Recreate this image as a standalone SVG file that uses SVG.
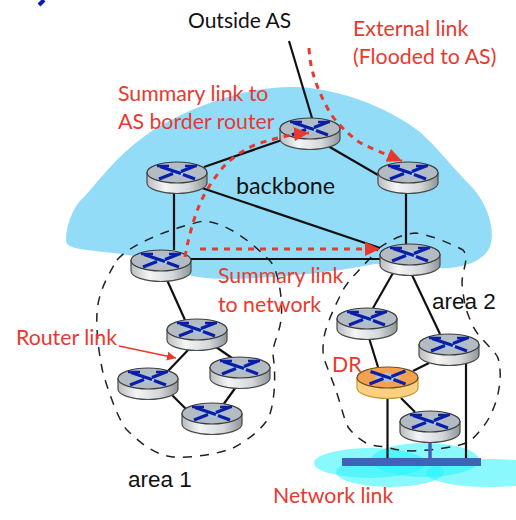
<svg xmlns="http://www.w3.org/2000/svg" xmlns:xlink="http://www.w3.org/1999/xlink" width="516" height="520" viewBox="0 0 516 520">
<style>
text{font-family:"Lato","Carlito","Open Sans",sans-serif;font-size:21.3px}
.r{fill:#e8392e}
.k{fill:#111}
.a{font-family:"Liberation Sans",Arial,sans-serif;fill:#111;font-size:22.5px}
.l line{stroke:#111;stroke-width:2.2}
.area{fill:none;stroke:#222;stroke-width:1.5;stroke-dasharray:9 8}
.red{fill:none;stroke:#e8392e;stroke-width:3;stroke-dasharray:6 6}
.body{stroke:#4a4a4a;stroke-width:1.2}
.top{fill:#b3bcc2;stroke:#3d3d3d;stroke-width:1.2}
.x{fill:none;stroke:#0a1ea8;stroke-width:3.2}
.dia{fill:#a9c3e0}
</style>
<defs>
<linearGradient id="g" x1="0" x2="1" y1="0" y2="0"><stop offset="0" stop-color="#b9bdc0"/><stop offset=".3" stop-color="#f4f5f5"/><stop offset=".7" stop-color="#d4d7d9"/><stop offset="1" stop-color="#8f9599"/></linearGradient>
<marker id="ah" markerUnits="userSpaceOnUse" markerWidth="16" markerHeight="14" refX="15" refY="7" orient="auto"><path d="M0 0L15 7L0 14z" fill="#e8392e"/></marker>
<marker id="ahs" markerUnits="userSpaceOnUse" markerWidth="10" markerHeight="10" refX="9" refY="4.5" orient="auto"><path d="M0 0L9 4.5L0 9z" fill="#e8392e"/></marker>
<g id="router">
<path class="body" fill="url(#g)" d="M-30 0V10.500A30 10.500 0 0 0 30 10.500V0z"/>
<ellipse class="top" rx="30" ry="10.500"/>
<path class="dia" d="M0 -5L14 0L0 5L-14 0z"/>
<path class="x" d="M-18 6.500L-4 1M4 -1L18 -6.500M-17 -6L4 1M6 2L18 6.500"/>
<path d="M-20 -6.500H-8M8 -6.500H20" fill="none" stroke="#0a1ea8" stroke-width="2.500"/>
</g>
</defs>
<rect width="516" height="520" fill="#fff"/>
<path d="M39 5L44 0" stroke="#0a1ea8" stroke-width="4" fill="none"/>
<path id="backbone-cloud" fill="#93dcf8" d="M66 240C66 225 74 205 84 197C100 180 120 150 160 126C200 103 250 86 295 87C335 88 385 105 420 132C440 150 450 165 470 185C485 200 495 225 491 243C488 258 470 266 450 268C420 270 395 262 375 264C345 270 300 276 255 278C225 280 190 280 170 268C140 252 100 253 80 249C70 247 66 245 66 240z"/>
<g id="network-cloud" fill="#28f4fb" fill-opacity=".55">
<ellipse cx="370" cy="463" rx="56" ry="15"/>
<ellipse cx="425" cy="460" rx="54" ry="17"/>
<ellipse cx="390" cy="472" rx="54" ry="15"/>
<ellipse cx="490" cy="473" rx="64" ry="14"/>
</g>
<g id="areas">
<path class="area" d="M117 260C130 245 165 230 203 221C225 222 250 240 271 262C280 275 283 305 281 320C279 335 272 345 273 355C276 375 275 400 269 417C262 430 245 442 233 448C215 455 190 458 173 457C155 455 140 443 127 430C118 420 108 390 103 373C99 355 96 330 97 313C98 295 105 280 117 260z"/>
<path class="area" d="M379 248C390 240 405 233 416 233C430 235 450 243 463 250C470 258 462 270 462 283C463 295 465 308 469 317C473 328 478 335 483 340C492 350 499 355 499 363C502 375 499 395 494 407C490 417 487 422 483 427C477 435 472 440 466 443C455 447 435 450 413 451C400 451 392 449 386 447C378 446 372 446 366 443C358 438 352 433 348 427C344 418 342 410 339 400C336 390 334 385 331 377C328 368 323 360 323 350C323 338 325 332 328 323C333 310 338 300 343 290C350 278 362 268 379 248z"/>
</g>
<g id="connectors" class="l">
<line x1="289" y1="41" x2="312" y2="118"/>
<line x1="282" y1="140" x2="204" y2="167"/>
<line x1="328" y1="146" x2="378" y2="175"/>
<line x1="174" y1="192" x2="174" y2="250"/>
<line x1="202" y1="188" x2="380" y2="248"/>
<line x1="406" y1="192" x2="406" y2="244"/>
<line x1="191" y1="259" x2="380" y2="259"/>
<line x1="167" y1="280" x2="185" y2="320"/>
<line x1="190" y1="348" x2="168" y2="371"/>
<line x1="216" y1="347" x2="232" y2="358"/>
<line x1="171" y1="394" x2="186" y2="409"/>
<line x1="236" y1="387" x2="223" y2="405"/>
<line x1="393" y1="273" x2="373" y2="308"/>
<line x1="412" y1="275" x2="440" y2="334"/>
<line x1="369" y1="338" x2="378" y2="367"/>
<line x1="429" y1="363" x2="413" y2="371"/>
<line x1="401" y1="398" x2="415" y2="412"/>
<line x1="387.500" y1="398" x2="387.500" y2="458"/>
<line x1="466" y1="363" x2="466" y2="458"/>
</g>
<line x1="430" y1="441" x2="430" y2="460" stroke="#3f63b8" stroke-width="3.500"/>
<rect id="bus" x="342" y="458" width="139" height="8" fill="#3f63b8"/>
<g id="r1"><use href="#router" x="310" y="128.500"/></g>
<g id="r2"><use href="#router" x="177" y="172.500"/></g>
<g id="r3"><use href="#router" x="408" y="172.500"/></g>
<g id="r4"><use href="#router" x="161" y="260.500"/></g>
<g id="r5"><use href="#router" x="410" y="254.500"/></g>
<g id="a1"><use href="#router" x="197" y="329.500"/></g>
<g id="a2"><use href="#router" x="148" y="378.500"/></g>
<g id="a3"><use href="#router" x="240" y="367.500"/></g>
<g id="a4"><use href="#router" x="212" y="413.500"/></g>
<g id="b1"><use href="#router" x="367" y="318.500"/></g>
<g id="b2"><use href="#router" x="449" y="344.500"/></g>
<g id="b3"><use href="#router" x="430" y="421.500"/></g>
<g id="dr">
<path d="M357 377.500V388A30.500 10.500 0 0 0 418 388V377.500z" fill="#fdcf7f" stroke="#c09a35" stroke-width="1.200"/>
<ellipse cx="387.500" cy="377.500" rx="30.500" ry="10.500" fill="#f4a14f" stroke="#6b5320" stroke-width="1.200"/>
<path d="M387.500 372.500L401.500 377.500L387.500 382.500L373.500 377.500z" fill="#a9c3e0"/>
<path class="x" d="M369.500 384L383.500 378.500M391.500 376.500L405.500 371M370.500 371.500L391.500 378.500M393.500 379.500L405.500 384"/>
</g>
<g id="flows">
<path class="red" marker-end="url(#ah)" d="M309 48C310 65 313 75 318 88C323 100 330 115 338 123C345 131 352 137 359 142C368 147 378 151 402 161"/>
<path class="red" marker-end="url(#ah)" d="M185 257C187 245 190 233 193 223C197 210 201 200 207 190C213 180 220 170 227 163C235 156 245 149 257 144C270 140 285 135 309 133"/>
<path class="red" marker-end="url(#ah)" d="M200 249H380"/>
<path d="M119 346L176 358" fill="none" stroke="#e8392e" stroke-width="1.500" marker-end="url(#ahs)"/>
</g>
<g id="labels">
<text class="k" x="188" y="28" style="font-size:21px">Outside AS</text>
<text class="r" x="353" y="36">External link</text>
<text class="r" x="353" y="64">(Flooded to AS)</text>
<text class="r" x="118" y="101">Summary link to</text>
<text class="r" x="118" y="129">AS border router</text>
<text class="k" x="236" y="194" style="font-size:23.3px">backbone</text>
<text class="r" x="218" y="283">Summary link</text>
<text class="r" x="218" y="312">to network</text>
<text class="a" x="432" y="309">area 2</text>
<text class="r" x="16" y="345">Router link</text>
<text class="r" x="332" y="372">DR</text>
<text class="a" x="128" y="487">area 1</text>
<text class="r" x="273" y="503">Network link</text>
</g>
</svg>
